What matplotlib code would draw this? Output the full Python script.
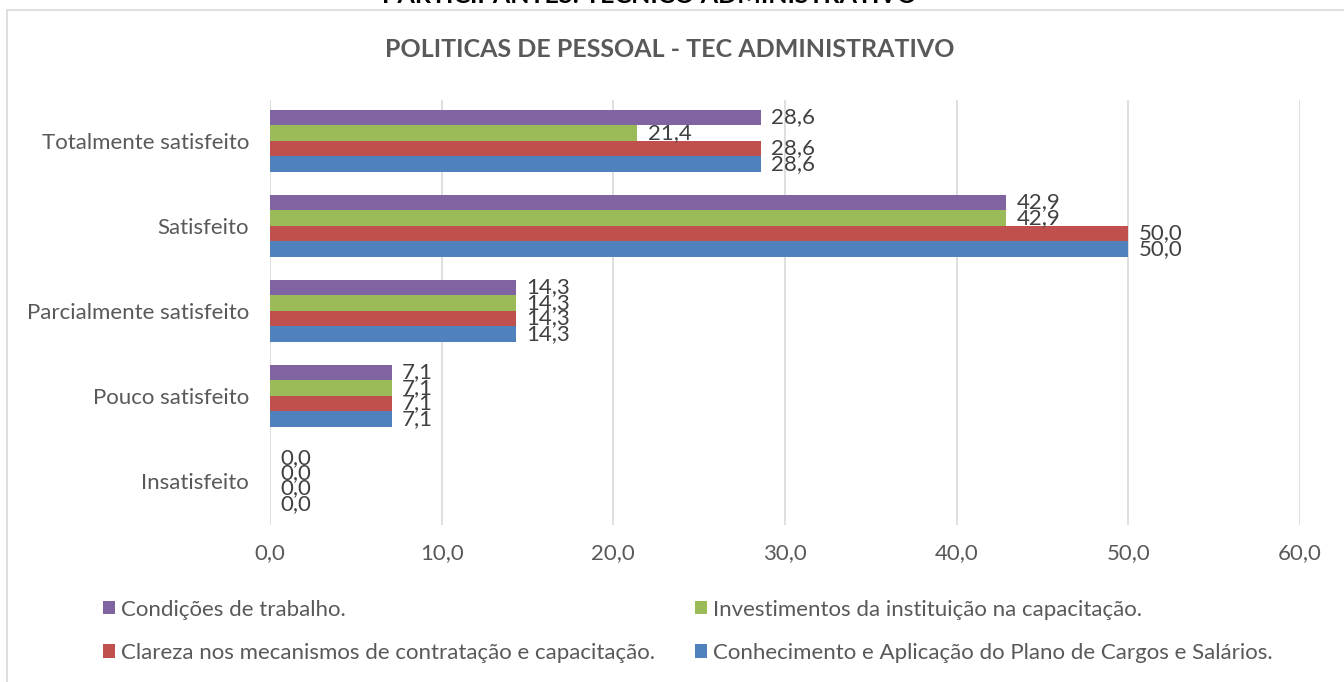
import matplotlib.pyplot as plt
from matplotlib.patches import Rectangle
import numpy as np

plt.rcParams['font.family'] = ['Lato', 'DejaVu Sans']

categories = ['Insatisfeito', 'Pouco satisfeito', 'Parcialmente satisfeito',
              'Satisfeito', 'Totalmente satisfeito']

# series from bottom bar to top bar within each group
series_names = ['Conhecimento e Aplicação do Plano de Cargos e Salários.',
                'Clareza nos mecanismos de contratação e capacitação.',
                'Investimentos da instituição na capacitação.',
                'Condições de trabalho.']
conhecimento = [0.0, 7.1, 14.3, 50.0, 28.6]
clareza = [0.0, 7.1, 14.3, 50.0, 28.6]
investimentos = [0.0, 7.1, 14.3, 42.9, 21.4]
condicoes = [0.0, 7.1, 14.3, 42.9, 28.6]
colors = ['#4f81bd', '#c0504d', '#9bbb59', '#8064a2']

x_ticks = [0, 10, 20, 30, 40, 50, 60]

fig = plt.figure(figsize=(13.44, 6.82), dpi=100)
ax = fig.add_axes([0.2009, 0.2302, 0.7664, 0.6232])

y = np.arange(len(categories))
h = 0.182
bars = []
for i, vals in enumerate([conhecimento, clareza, investimentos, condicoes]):
    b = ax.barh(y + (i - 1.5) * h, vals, height=h, color=colors[i],
                label=series_names[i], zorder=3)
    bars.append(b)
    for rect, v in zip(b, vals):
        ax.text(rect.get_width() + 0.6, rect.get_y() + rect.get_height() / 2,
                f'{v:.1f}'.replace('.', ','), va='center', ha='left',
                fontsize=16, color='#404040', zorder=4)

ax.set_xlim(0, 60)
ax.set_ylim(-0.52, 4.48)
ax.set_xticks(x_ticks)
ax.set_xticklabels([f'{t:.1f}'.replace('.', ',') for t in x_ticks])
ax.set_yticks(y)
ax.set_yticklabels(categories)
ax.tick_params(axis='both', length=0, labelsize=16, labelcolor='#595959')
ax.tick_params(axis='x', pad=13)
ax.tick_params(axis='y', pad=15)
ax.grid(axis='x', color='#d9d9d9', linewidth=1.2, zorder=0)
for s in ax.spines.values():
    s.set_visible(False)

# legend: purple, red in first column; green, blue in second
order = [3, 1, 2, 0]
leg = fig.legend([bars[k] for k in order], [series_names[k] for k in order],
                 ncol=2, loc='upper left', bbox_to_anchor=(0.07, 0.134),
                 frameon=False, fontsize=16, handlelength=0.55, handleheight=0.55,
                 handletextpad=0.25, columnspacing=1.8, labelspacing=1.05,
                 borderaxespad=0)
for t in leg.get_texts():
    t.set_color('#595959')

fig.text(0.4985, 0.928, 'POLITICAS DE PESSOAL - TEC ADMINISTRATIVO',
         ha='center', va='center', fontsize=18, fontweight='bold', color='#595959')

# page title cut off at top
fig.text(0.483, 1.006, 'PARTICIPANTES: TÉCNICO ADMINISTRATIVO',
         ha='center', va='center', fontsize=18, fontweight='bold', color='black')

# chart frame
fig.add_artist(Rectangle((7 / 1344, -0.01), 1.0, 1 - 10 / 682 + 0.01,
                         transform=fig.transFigure, fill=False,
                         edgecolor='#d9d9d9', linewidth=1.2))

fig.savefig('out.png', dpi=100)
